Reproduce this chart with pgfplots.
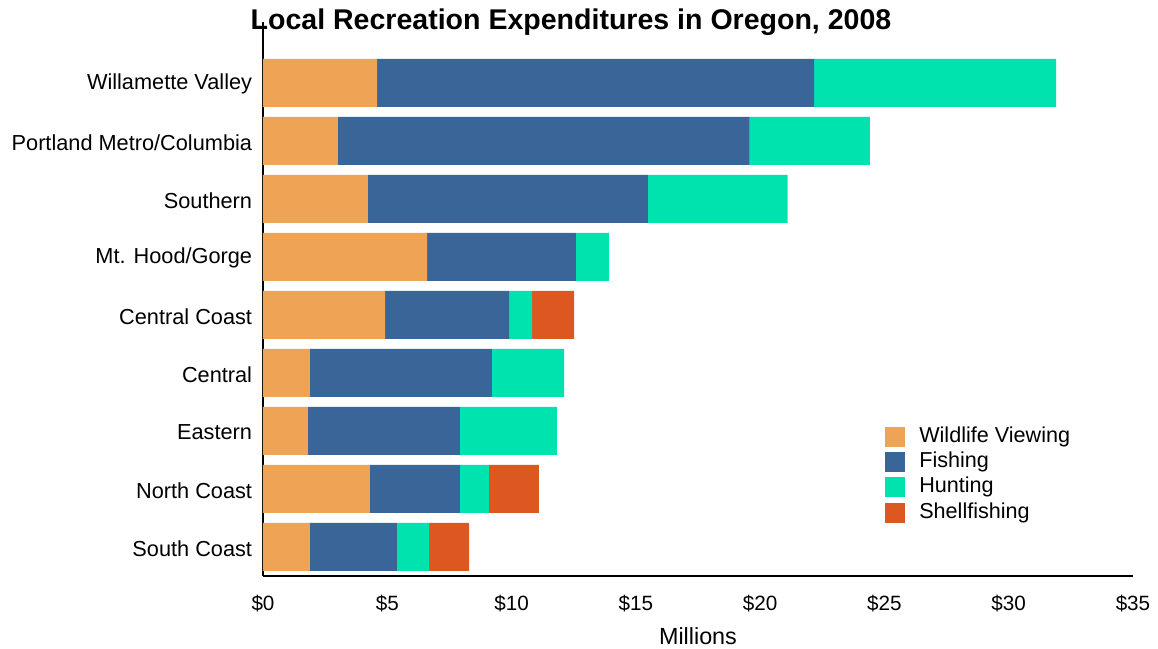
\documentclass[border=0pt]{standalone}
\usepackage{pgfplots}
\pgfplotsset{compat=1.18}
\usepackage{fontspec}
\setmainfont{Liberation Sans}
\definecolor{cWild}{HTML}{EFA355}
\definecolor{cFish}{HTML}{3A6598}
\definecolor{cHunt}{HTML}{00E3AF}
\definecolor{cShell}{HTML}{DC5820}
\begin{document}
\begin{tikzpicture}
\begin{axis}[
  at={(0,0)}, anchor=south west,
  scale only axis, width=652.5pt, height=415.5pt,
  xbar stacked, bar width=36pt, bar shift=0pt,
  xmin=0, xmax=35, ymin=-0.5, ymax=9.05,
  axis x line=bottom, axis y line=left,
  axis line style={-},
  x axis line style={line width=2pt},
  y axis line style={line width=1.5pt},
  major tick length=0pt,
  /pgf/number format/assume math mode=true,
  xtick={0,5,...,35},
  xticklabels={\$0,\$5,\$10,\$15,\$20,\$25,\$30,\$35},
  xticklabel style={font=\fontsize{15.5}{18}\selectfont, yshift=-11pt},
  ytick={0,...,8},
  yticklabels={South Coast,North Coast,Eastern,Central,Central Coast,Mt. Hood/Gorge,Southern,Portland Metro/Columbia,Willamette Valley},
  yticklabel style={font=\fontsize{16.3}{19}\selectfont, inner sep=0pt, xshift=-8pt, yshift=-1pt},
  legend style={draw=none, fill=none, at={(0.715,0.270)}, anchor=north west,
    font=\fontsize{16.2}{19}\selectfont, inner sep=0pt, row sep=4pt,
    nodes={inner sep=0pt, text height=11pt, text depth=3pt},
    /tikz/every even column/.append style={column sep=0pt}},
  legend cell align=left,
  legend image code/.code={\fill[#1] (0pt,-7.5pt) rectangle (15pt,7.5pt); \path (25.5pt,0pt);},
  clip=false,
]
\addplot[fill=cWild, draw=none] coordinates {(1.89,0) (4.30,1) (1.81,2) (1.89,3) (4.91,4) (6.60,5) (4.22,6) (3.01,7) (4.59,8)};
\addplot[fill=cFish, draw=none] coordinates {(3.50,0) (3.62,1) (6.11,2) (7.32,3) (4.99,4) (5.99,5) (11.26,6) (16.57,7) (17.58,8)};
\addplot[fill=cHunt, draw=none] coordinates {(1.29,0) (1.17,1) (3.90,2) (2.90,3) (0.93,4) (1.33,5) (5.63,6) (4.83,7) (9.74,8)};
\addplot[fill=cShell, draw=none] coordinates {(1.61,0) (2.01,1) (0,2) (0,3) (1.69,4) (0,5) (0,6) (0,7) (0,8)};
\legend{Wildlife Viewing,Fishing,Hunting,Shellfishing}
\end{axis}
\node[font=\bfseries\fontsize{21.4}{25}\selectfont] at (231pt,415pt) {Local Recreation Expenditures in Oregon, 2008};
\node[font=\fontsize{17.5}{20}\selectfont] at (326.25pt,-45pt) {Millions};
\pgfresetboundingbox
\path[use as bounding box] (-197.25pt,-54.75pt) rectangle (671.25pt,432pt);
\end{tikzpicture}
\end{document}
